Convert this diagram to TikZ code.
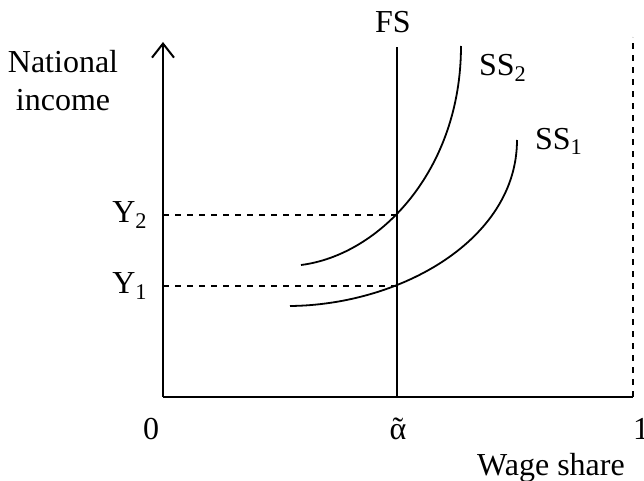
\documentclass[tikz,border=0pt]{standalone}
\usepackage{fontspec}
\setmainfont{Liberation Serif}
\usetikzlibrary{arrows.meta, positioning}

\begin{document}
\begin{tikzpicture}[
        x=0.5pt, y=-0.5pt,
        every node/.style={font=\fontsize{16}{19}\selectfont},
        axisline/.style={line width=1.2pt},
        curveline/.style={line width=0.9pt},
        guideline/.style={dashed, line width=0.8pt},
        axisarrow/.style={-{Straight Barb[length=7pt, width=11pt, line width=1pt]}, axisline},
        ticklabel/.style={anchor=base}
    ]
        \useasboundingbox (0,0) rectangle (644,481);

        % axes
        \coordinate (origin) at (163,397);
        \coordinate (ytop) at (163,42);
        \coordinate (xend) at (633,397);
        \coordinate (onetop) at (633,37);
        \coordinate (fstop) at (397,47);
        \coordinate (fsfoot) at (397,397);
        \coordinate (ytwo) at (163,215);
        \coordinate (yone) at (163,286);
        \coordinate (meettwo) at (397,215);
        \coordinate (meetone) at (397,286);

        \draw[axisarrow] (origin) -- (ytop);
        \draw[axisline] (origin) -- (xend);
        \draw[guideline] (xend) -- (onetop);
        \draw[curveline] (fsfoot) -- (fstop);
        \draw[guideline] (ytwo) -- (meettwo);
        \draw[guideline] (yone) -- (meetone);

        % supply schedules
        \draw[curveline] (301,265) .. controls (380,255) and (461,170) .. (461,46);
        \draw[curveline] (290,306) .. controls (400,305) and (517,240) .. (517,140);

        % labels
        \node[align=center] (income) at (63,81) {National\\income};
        \node (fslabel) at (393,22) {FS};
        \node (sstwo) at (503,68) {SS\textsubscript{2}};
        \node (ssone) at (559,141) {SS\textsubscript{1}};
        \node (ytwolabel) at (130,215) {Y\textsubscript{2}};
        \node (yonelabel) at (130,286) {Y\textsubscript{1}};
        \node[ticklabel] (zero) at (151,440) {0};
        \node[ticklabel] (alphatilde) at (398,440) {\ooalign{α\cr\hidewidth\char"02DC\hidewidth\cr}};
        \node[ticklabel] (one) at (641,440) {1};
        \node (share) at (551,468) {Wage share};
\end{tikzpicture}
\end{document}
